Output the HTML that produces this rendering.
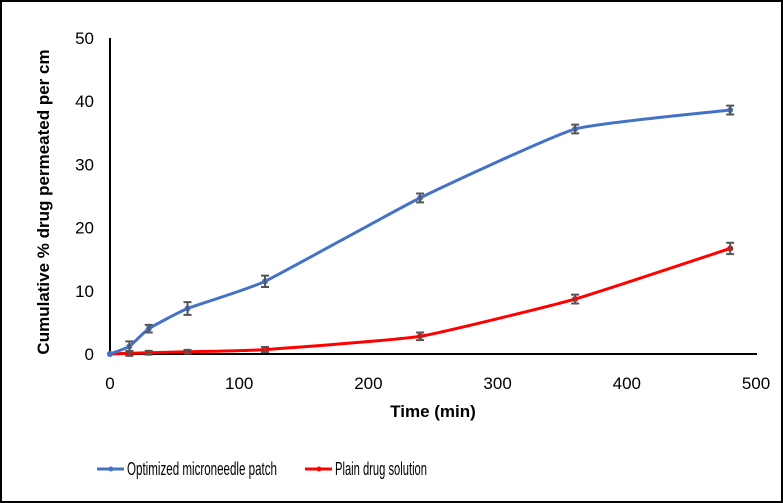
<!DOCTYPE html>
<html><head><meta charset="utf-8"><style>
body{margin:0;background:#fff;}
svg{display:block;font-family:"Liberation Sans",sans-serif;}
</style></head><body>
<svg id="c" width="783" height="503">
<rect x="1" y="1" width="781" height="501" fill="#fff" stroke="#000" stroke-width="2"/>
</svg>
<script>
const xVals=[0,15,30,60,120,240,360,480];
const seriesA=[0,1.2,4,7.2,11.5,24.7,35.6,38.6];
const errA=[0,0.8,0.6,1.0,0.9,0.7,0.7,0.7];
const seriesB=[0,0.1,0.2,0.35,0.7,2.8,8.7,16.7];
const errB=[0,0.4,0.3,0.3,0.4,0.6,0.7,0.9];
const xTicks=[0,100,200,300,400,500];
const yTicks=[0,10,20,30,40,50];
const svg=document.getElementById('c');const NS='http://www.w3.org/2000/svg';
const X=v=>110+v*(756-110)/500, Y=v=>354-v*(354-38)/50;
function el(t,a,p){const e=document.createElementNS(NS,t);for(const k in a)e.setAttribute(k,a[k]);(p||svg).appendChild(e);return e;}
let ax=el('line',{x1:110,y1:38,x2:110,y2:355,stroke:'#000','stroke-width':2});


let ax2=el('line',{x1:109,y1:354,x2:757,y2:354,stroke:'#000','stroke-width':2});


yTicks.forEach(t=>{const e=el('text',{x:94,y:Y(t)+6,'text-anchor':'end','font-size':17,fill:'#000'});e.textContent=t;

});
xTicks.forEach(t=>{const e=el('text',{x:X(t),y:389,'text-anchor':'middle','font-size':17,fill:'#000'});e.textContent=t;

});
let xt=el('text',{x:433,y:417,'text-anchor':'middle','font-size':17,'font-weight':'bold'});xt.textContent='Time (min)';


let yt=el('text',{x:0,y:0,'text-anchor':'middle','font-size':17,'font-weight':'bold',transform:'translate(49,202) rotate(-90)'});yt.textContent='Cumulative % drug permeated per cm';


function smooth(pts){let d=`M${pts[0][0]},${pts[0][1]}`;for(let i=0;i<pts.length-1;i++){const p0=pts[i-1]||pts[i],p1=pts[i],p2=pts[i+1],p3=pts[i+2]||p2;const t=14;d+=` C${p1[0]+(p2[0]-p0[0])/t},${p1[1]+(p2[1]-p0[1])/t} ${p2[0]-(p3[0]-p1[0])/t},${p2[1]-(p3[1]-p1[1])/t} ${p2[0]},${p2[1]}`;}return d;}
function series(vals,errs,color,name){
 const pts=xVals.map((x,i)=>[X(x),Y(vals[i])]);
 const p=el('path',{d:smooth(pts),fill:'none',stroke:color,'stroke-width':3});
 
 
 pts.forEach((q,i)=>{
  const c=el('circle',{cx:q[0],cy:q[1],r:3,fill:color});
  
  
  if(errs[i]>0){const g=el('path',{d:`M${q[0]},${Y(vals[i]+errs[i])}V${Y(vals[i]-errs[i])}M${q[0]-4},${Y(vals[i]+errs[i])}h8M${q[0]-4},${Y(vals[i]-errs[i])}h8`,stroke:'#555','stroke-width':2,fill:'none'});
  
  }
 });
}
series(seriesB,errB,'#ff0000','plain-drug');
series(seriesA,errA,'#4472c4','microneedle');
[[97,'#4472c4','Optimized microneedle patch',150],[305,'#ff0000','Plain drug solution',92]].forEach(l=>{
 const g=el('g',{});
 el('line',{x1:l[0],y1:469,x2:l[0]+27,y2:469,stroke:l[1],'stroke-width':3},g);
 el('circle',{cx:l[0]+14,cy:469,r:2.5,fill:l[1]},g);
 const t=el('text',{x:l[0]+30,y:475,'font-size':18,textLength:l[3],lengthAdjust:'spacingAndGlyphs'},g);t.textContent=l[2];
});
</script>
</body></html>
